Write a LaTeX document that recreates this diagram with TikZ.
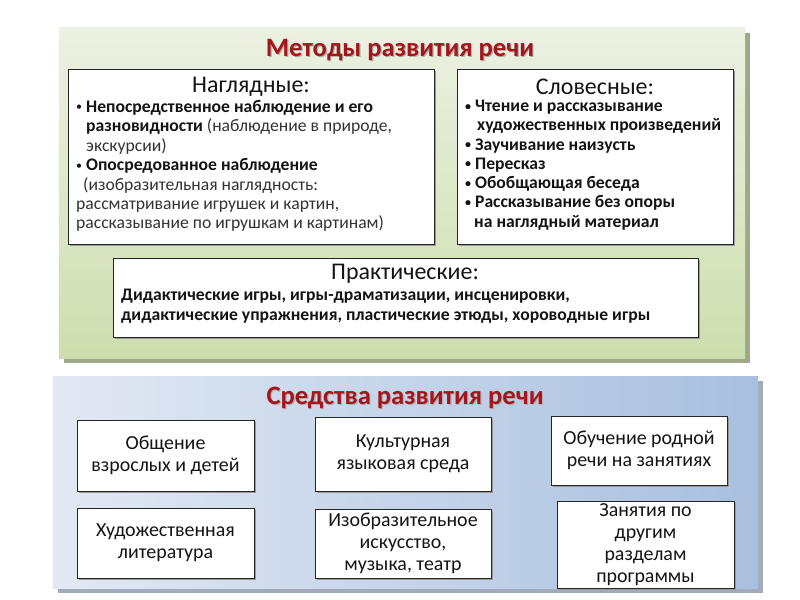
\documentclass[tikz,border=0pt]{standalone}
\usepackage{fontspec}
\setmainfont{Carlito}
\usetikzlibrary{shadows}
\definecolor{titlered}{HTML}{A5161C}
\definecolor{greentop}{HTML}{ECF1E2}
\definecolor{greenbot}{HTML}{CDDEAE}
\definecolor{greenshadow}{HTML}{9DAA8A}
\definecolor{bluel}{HTML}{E2E9F3}
\definecolor{bluer}{HTML}{A8BFDF}
\definecolor{blueshadow}{HTML}{A2ABBB}
\definecolor{txt}{HTML}{141414}
\definecolor{txtgray}{HTML}{333333}
\newcommand{\bul}{{\fontsize{12}{12}\selectfont\raisebox{1.5bp}{•}}\ }
\begin{document}
\begin{tikzpicture}[x=1bp,y=-1bp,
  greenpanel/.style={shading=axis, top color=greentop, bottom color=greenbot, shading angle=0,
    drop shadow={shadow xshift=5bp, shadow yshift=-5bp, fill=greenshadow, opacity=1},
    inner sep=0, outer sep=0},
  bluepanel/.style={left color=bluel, right color=bluer,
    drop shadow={shadow xshift=5bp, shadow yshift=-5bp, fill=blueshadow, opacity=1},
    inner sep=0, outer sep=0},
  boxw/.style={draw=black!85, line width=0.9bp, fill=white, inner sep=0,
    drop shadow={shadow xshift=2bp, shadow yshift=-2bp, fill=black!40, opacity=1}},
  bigtitle/.style={font=\fontsize{26.7}{30}\selectfont\bfseries, text=titlered, inner sep=0},
  titleshadow/.style={font=\fontsize{26.7}{30}\selectfont\bfseries, text=black!30, inner sep=0},
  heading/.style={font=\fontsize{24}{28}\selectfont, text=txt, inner sep=0},
  bodytext/.style={font=\fontsize{17.7}{19.5}\selectfont, text=txt, align=left, inner sep=0, anchor=north west},
  smalltext/.style={font=\fontsize{20}{22}\selectfont, text=txt, align=center, inner sep=0}
]
\useasboundingbox (0,0) rectangle (800,600);
\fill[white] (0,0) rectangle (800,600);

% ---------- top panel ----------
\node[greenpanel, minimum width=686bp, minimum height=330bp] (gp) at (402,193) {};
\node[titleshadow] (t1s) at (401.2,51.2) {Методы развития речи};
\node[bigtitle] (t1) at (400,50) {Методы развития речи};

\node[boxw, minimum width=366bp, minimum height=175bp] (nag) at (251,156.5) {};
\node[heading] (nagh) at (251,86.5) {Наглядные:};
\node[bodytext] (nagb) at (76,100) {%
  \bul\textbf{Непосредственное наблюдение и его}\\
  \hspace*{10bp}\textbf{разновидности} {\color{txtgray}(наблюдение в природе,}\\
  \hspace*{10bp}{\color{txtgray}экскурсии)}\\
  \bul\textbf{Опосредованное наблюдение}\\
  \hspace*{7bp}{\color{txtgray}(изобразительная наглядность:}\\
  {\color{txtgray}рассматривание игрушек и картин,}\\
  {\color{txtgray}рассказывание по игрушкам и картинам)}};

\node[boxw, minimum width=276bp, minimum height=175bp] (slo) at (595,156.5) {};
\node[heading] (sloh) at (595,86.5) {Словесные:};
\node[bodytext, font=\fontsize{17.7}{19.3}\selectfont\bfseries] (slob) at (465,100) {%
  \bul Чтение и рассказывание\\
  \hspace*{12bp}художественных произведений\\
  \bul Заучивание наизусть\\
  \bul Пересказ\\
  \bul Обобщающая беседа\\
  \bul Рассказывание без опоры\\
  \hspace*{9bp}на наглядный материал};

\node[boxw, minimum width=585bp, minimum height=79bp] (pra) at (405.5,297.5) {};
\node[heading] (prah) at (405,273.5) {Практические:};
\node[bodytext, font=\fontsize{17.7}{19.5}\selectfont\bfseries] (prab) at (121,289) {%
  Дидактические игры, игры-драматизации, инсценировки,\\
  дидактические упражнения, пластические этюды, хороводные игры};

% ---------- bottom panel ----------
\node[bluepanel, minimum width=705bp, minimum height=212bp] (bp) at (405.5,482) {};
\node[titleshadow] (t2s) at (406.2,399.2) {Средства развития речи};
\node[bigtitle] (t2) at (405,398) {Средства развития речи};

\node[boxw, minimum width=177bp, minimum height=71bp] (ba) at (165.5,455.5) {};
\node[smalltext] (bat) at (ba.center) {Общение\\взрослых и детей};
\node[boxw, minimum width=176bp, minimum height=74bp] (bb) at (403,454) {};
\node[smalltext] (bbt) at (bb.center) {Культурная\\языковая среда};
\node[boxw, minimum width=176bp, minimum height=69bp] (bc) at (639,450.5) {};
\node[smalltext] (bct) at (bc.center) {Обучение родной\\речи на занятиях};
\node[boxw, minimum width=177bp, minimum height=70bp] (bd) at (165.5,543) {};
\node[smalltext] (bdt) at (bd.center) {Художественная\\литература};
\node[boxw, minimum width=176bp, minimum height=69bp] (be) at (403,543.5) {};
\node[smalltext] (bet) at (be.center) {Изобразительное\\искусство,\\музыка, театр};
\node[boxw, minimum width=177bp, minimum height=87bp] (bf) at (645.5,544.5) {};
\node[smalltext] (bft) at (bf.center) {Занятия по\\другим\\разделам\\программы};
\end{tikzpicture}
\end{document}
